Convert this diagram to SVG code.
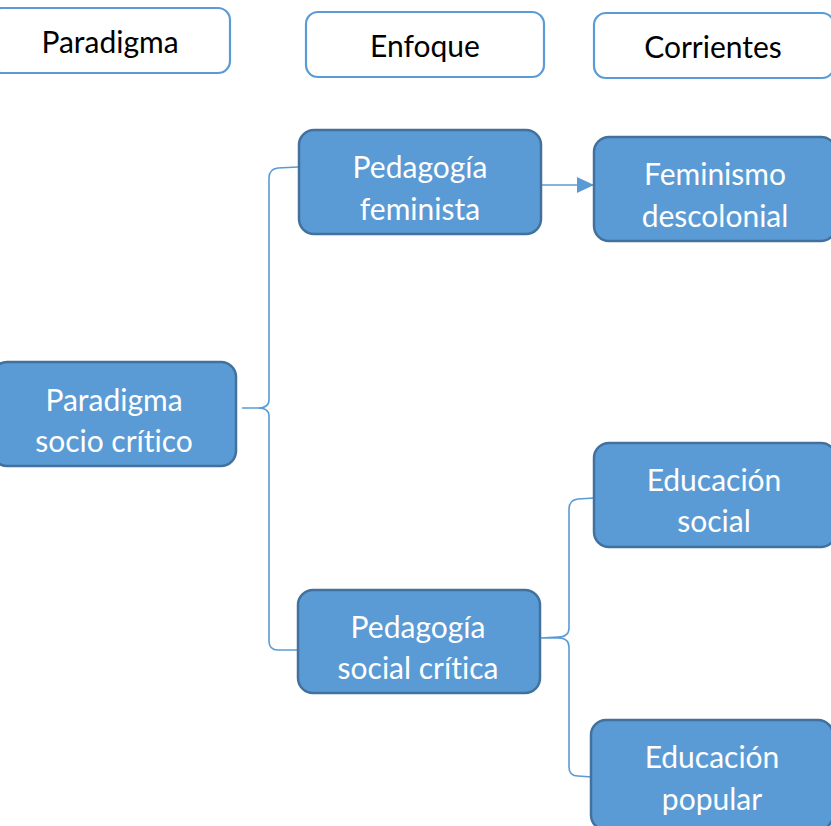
<svg xmlns="http://www.w3.org/2000/svg" width="831" height="826" viewBox="0 0 831 826">
<style>
.hdr{fill:#FFFFFF;stroke:#5B9BD5;stroke-width:2.2}
.node{fill:#5B9BD5;stroke:#41719C;stroke-width:2.5}
.ht{font-family:Lato,"Open Sans",sans-serif;font-size:30px;fill:#000000;text-anchor:middle;font-variant-ligatures:none}
.nt{font-family:Lato,"Open Sans",sans-serif;font-size:30px;fill:#FFFFFF;text-anchor:middle;font-variant-ligatures:none}
.conn{fill:none;stroke:#5B9BD5;stroke-width:1.6}
</style>
<defs>
<marker id="arr" markerWidth="17" markerHeight="16" refX="17" refY="8" orient="auto" markerUnits="userSpaceOnUse" viewBox="0 0 17 16">
<path d="M0,0 L17,8 L0,16 Z" fill="#5B9BD5"/>
</marker>
</defs>
<rect width="831" height="826" fill="#FFFFFF"/>
<g id="h-paradigma"><rect class="hdr" x="-10" y="8" width="240" height="65" rx="12"/><text class="ht" x="110" y="53">Paradigma</text></g>
<g id="h-enfoque"><rect class="hdr" x="306" y="12" width="238" height="65" rx="12"/><text class="ht" x="425" y="57">Enfoque</text></g>
<g id="h-corrientes"><rect class="hdr" x="594" y="13" width="240" height="65" rx="12"/><text class="ht" x="713" y="58">Corrientes</text></g>
<g id="connectors">
<path class="conn" d="M298,167 L278,168 Q269,169 269,178 L269,400 Q269,408 258,408 L242,408 L258,408 Q269,408 269,416 L269,641 Q269,650 278,650 L298,650"/>
<path class="conn" d="M594,498 L578,499 Q569,500 569,509 L569,628 Q569,637 558,637 L540,638 L558,638 Q569,638 569,647 L569,767 Q569,776 578,776 L592,777"/>
<path class="conn" d="M541,185 L594,185" marker-end="url(#arr)"/>
</g>
<g id="n-socio"><rect class="node" x="-8" y="362" width="244" height="104" rx="15"/><text class="nt" x="114" y="411">Paradigma</text><text class="nt" x="114" y="452">socio crítico</text></g>
<g id="n-feminista"><rect class="node" x="299" y="130" width="242" height="104" rx="15"/><text class="nt" x="420" y="178">Pedagogía</text><text class="nt" x="420" y="220">feminista</text></g>
<g id="n-descolonial"><rect class="node" x="594" y="137" width="242" height="104" rx="15"/><text class="nt" x="715" y="185">Feminismo</text><text class="nt" x="715" y="227">descolonial</text></g>
<g id="n-social"><rect class="node" x="594" y="443" width="242" height="104" rx="15"/><text class="nt" x="714" y="491">Educación</text><text class="nt" x="714" y="532">social</text></g>
<g id="n-critica"><rect class="node" x="298" y="590" width="242" height="103" rx="15"/><text class="nt" x="418" y="638">Pedagogía</text><text class="nt" x="418" y="679">social crítica</text></g>
<g id="n-popular"><rect class="node" x="591" y="720" width="242" height="110" rx="15"/><text class="nt" x="712" y="768">Educación</text><text class="nt" x="712" y="810">popular</text></g>
</svg>
